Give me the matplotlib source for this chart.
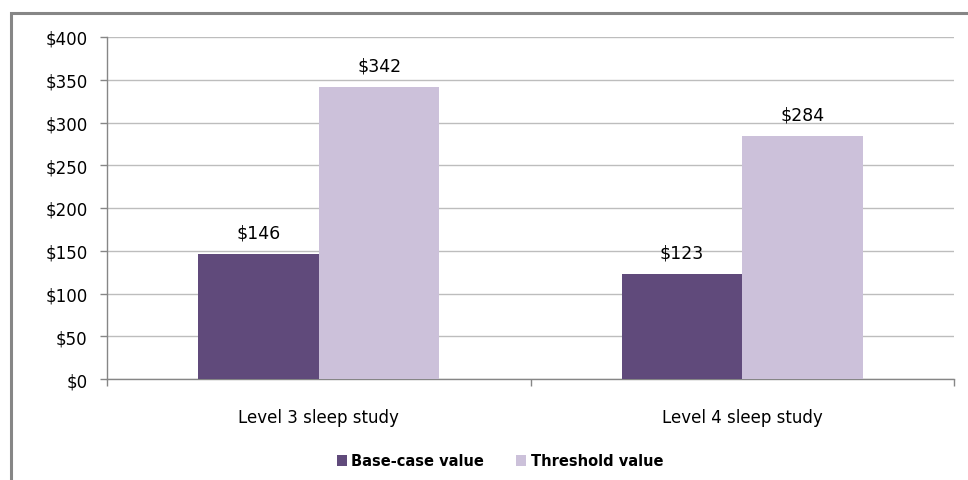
import matplotlib
matplotlib.use("Agg")
import matplotlib.pyplot as plt
from matplotlib.patches import Rectangle
import numpy as np

categories = ["Level 3 sleep study", "Level 4 sleep study"]
base_case = [146, 123]
threshold = [342, 284]
series_names = ["Base-case value", "Threshold value"]
y_ticks = [0, 50, 100, 150, 200, 250, 300, 350, 400]

plt.rcParams["font.family"] = ["DejaVu Sans"]

W, H = 968, 481
fig = plt.figure(figsize=(W / 100, H / 100), dpi=100)
fig.patch.set_facecolor("white")

# outer chart frame (runs off the right and bottom edges)
fig.add_artist(Rectangle((11 / W, -0.05), 1.1, 1 - 14 / H + 0.05,
                         transform=fig.transFigure, fill=False,
                         edgecolor="#868686", linewidth=2.2, zorder=0))

ax = fig.add_axes([107 / W, 1 - 380 / H, (954 - 107) / W, (380 - 38) / H])

x = np.arange(len(categories))
bw = 0.285
c_base = "#604A7B"
c_thr = "#CCC1DA"
b1 = ax.bar(x - bw / 2, base_case, bw, color=c_base, label=series_names[0], zorder=3)
b2 = ax.bar(x + bw / 2, threshold, bw, color=c_thr, label=series_names[1], zorder=3)

for bars, vals in ((b1, base_case), (b2, threshold)):
    for r, v in zip(bars, vals):
        ax.annotate(f"${v}", (r.get_x() + r.get_width() / 2, v),
                    xytext=(0, 9), textcoords="offset points",
                    ha="center", va="bottom", fontsize=12.5, color="black")

ax.set_xlim(-0.5, len(categories) - 0.5)
ax.set_ylim(0, 400)
ax.set_yticks(y_ticks)
ax.set_yticklabels([f"${v}" for v in y_ticks], fontsize=12)
ax.yaxis.grid(True, color="#BDBDBD", linewidth=1.0, zorder=0)
ax.set_axisbelow(True)

ax.set_xticks(x)
ax.set_xticklabels(categories, fontsize=12)
ax.tick_params(axis="x", which="major", length=0, pad=21)
ax.set_xticks(np.arange(-0.5, len(categories), 1.0), minor=True)
ax.tick_params(axis="x", which="minor", length=5, color="#868686", width=1)
ax.tick_params(axis="y", length=5, color="#868686", width=1, pad=9)

for s in ("top", "right"):
    ax.spines[s].set_visible(False)
for s in ("left", "bottom"):
    ax.spines[s].set_color("#868686")
    ax.spines[s].set_linewidth(1.0)

leg = fig.legend(handles=[b1, b2], labels=series_names, loc="center",
                 bbox_to_anchor=(500 / W, 1 - 462 / H), ncol=2, frameon=False,
                 prop={"weight": "bold", "size": 10.5}, handlelength=0.7,
                 handleheight=0.7, handletextpad=0.3, columnspacing=2.2)

fig.savefig("out.png", dpi=100, facecolor="white")
